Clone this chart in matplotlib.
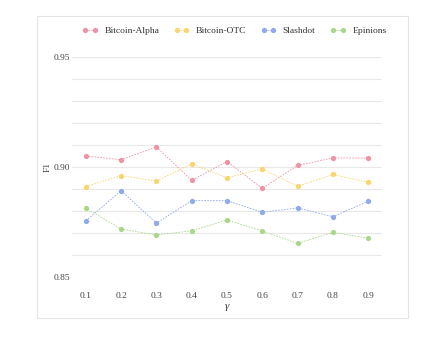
import matplotlib
matplotlib.use("Agg")
import matplotlib.pyplot as plt
from matplotlib.patches import Rectangle

gamma = [0.1, 0.2, 0.3, 0.4, 0.5, 0.6, 0.7, 0.8, 0.9]
tick_labels = ["0.1", "0.2", "0.3", "0.4", "0.5", "0.6", "0.7", "0.8", "0.9"]
bitcoin_alpha = [0.9050, 0.9033, 0.9091, 0.8939, 0.9025, 0.8903, 0.9007, 0.9041, 0.9041]
bitcoin_otc = [0.8911, 0.8961, 0.8936, 0.9014, 0.8951, 0.8991, 0.8912, 0.8966, 0.8930]
slashdot = [0.8755, 0.8892, 0.8745, 0.8847, 0.8847, 0.8794, 0.8814, 0.8774, 0.8844]
epinions = [0.8814, 0.8718, 0.8691, 0.8710, 0.8759, 0.8709, 0.8653, 0.8703, 0.8676]

series = [
    ("Bitcoin-Alpha", bitcoin_alpha, "#f093a5"),
    ("Bitcoin-OTC", bitcoin_otc, "#f9d56e"),
    ("Slashdot", slashdot, "#8eaaea"),
    ("Epinions", epinions, "#a9d88b"),
]

plt.rcParams['font.family'] = ['Liberation Serif', 'DejaVu Serif']
fig = plt.figure(figsize=(4.37, 3.42), dpi=100)
fig.patches.append(Rectangle((37/437, 1-318/342), (408-37)/437, (318-16)/342,
                             transform=fig.transFigure, fill=False,
                             edgecolor="#e4e4e4", linewidth=0.8))
ax = fig.add_axes([72/437, 1-277/342, (382-72)/437, (277-57)/342])

for name, vals, col in series:
    ax.plot(gamma, vals, linestyle=(0, (2, 1.5)), linewidth=0.6, color=col,
            marker="o", markersize=3.8, markeredgewidth=0, label=name)

ax.set_xlim(0.1 - 0.039, 0.9 + 0.039)
ax.set_ylim(0.85, 0.95)
ax.set_xticks(gamma)
ax.set_xticklabels(tick_labels)
ax.set_yticks([0.85, 0.90, 0.95])
ax.set_yticklabels(["0.85", "0.90", "0.95"])
ax.set_yticks([0.86, 0.87, 0.88, 0.89, 0.91, 0.92, 0.93, 0.94], minor=True)
ax.grid(axis="y", which="both", color="#e8e8e8", linewidth=0.8)
ax.set_axisbelow(True)
for s in ax.spines.values():
    s.set_visible(False)
ax.tick_params(axis="both", which="both", length=0, labelsize=6.8, colors="#444444")
ax.tick_params(axis="x", pad=11)
ax.tick_params(axis="y", pad=1.5)
ax.set_xlabel("γ", fontsize=8, style="italic", labelpad=1, color="#333333")
ax.set_ylabel("F1", fontsize=6.8, color="#444444")
ax.yaxis.set_label_coords((52 - 72) / (382 - 72), 0.5)

fig.legend(loc="center", bbox_to_anchor=(234.5/437, 1-31/342), ncol=4, frameon=False,
           fontsize=6.8, handlelength=1.6, columnspacing=1.58, handletextpad=0.7,
           numpoints=2, labelcolor="#333333")

fig.savefig("out.png", dpi=100)
